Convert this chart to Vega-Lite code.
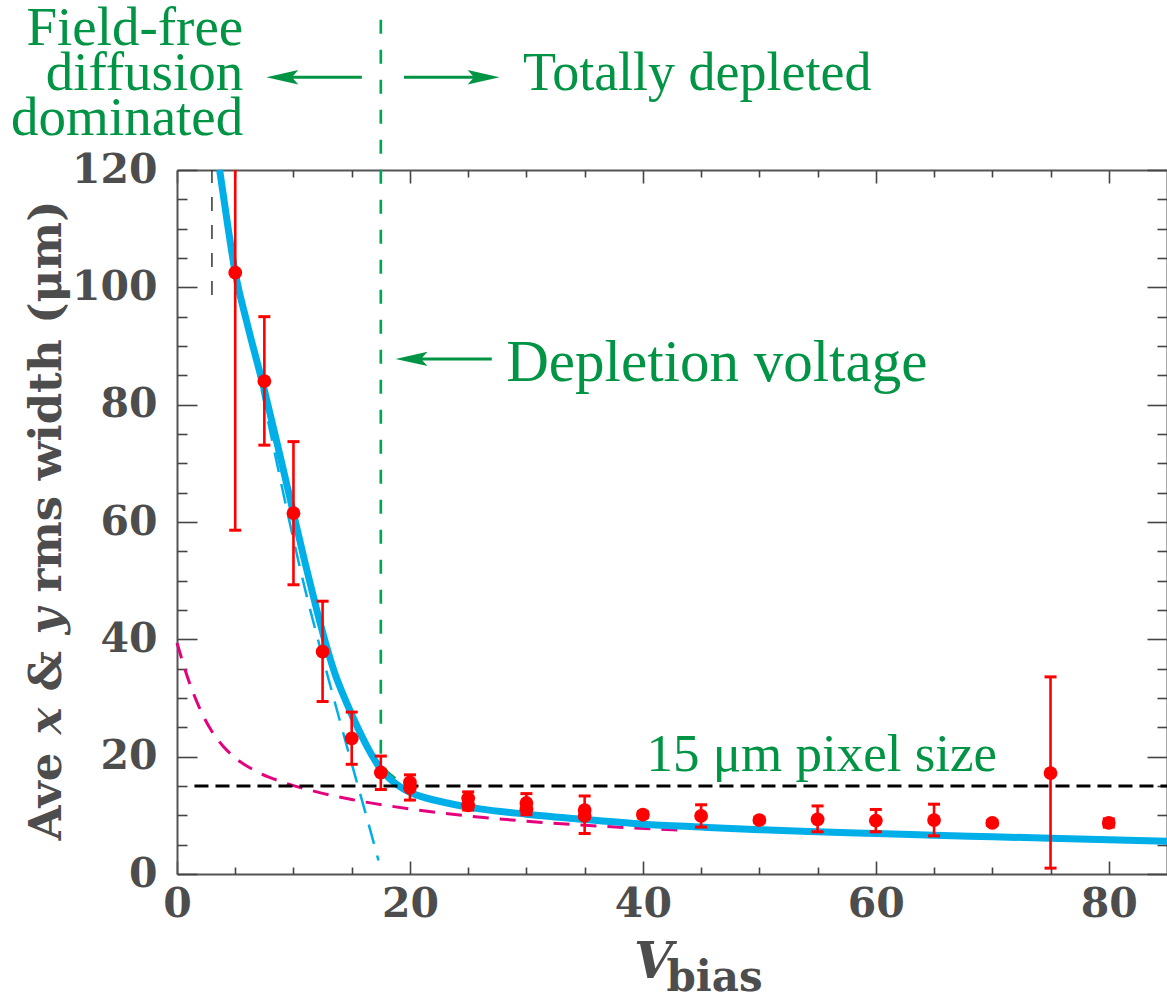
{
  "$schema": "https://vega.github.io/schema/vega-lite/v6.json",
  "width": 990,
  "height": 704,
  "autosize": {"type": "none"},
  "padding": {"left": 177, "top": 170, "right": 0, "bottom": 124},
  "background": "white",
  "config": {
    "view": {"stroke": null},
    "axis": {
      "grid": false,
      "labelFont": "DejaVu Serif",
      "labelFontSize": 41,
      "labelFontWeight": "bold",
      "labelColor": "#4d4d4d",
      "titleFont": "DejaVu Serif",
      "titleColor": "#4d4d4d",
      "titleFontWeight": "bold",
      "domainColor": "#555555",
      "domainWidth": 2,
      "tickColor": "#444444",
      "tickWidth": 1.6,
      "labelFlush": false,
      "labelOverlap": false
    }
  },
  "datasets": {
    "frame": [{"x": 0, "y": 0}],
    "pts": [
      {"x": 5, "y": 102.5}, {"x": 7.5, "y": 84.0}, {"x": 10, "y": 61.5}, {"x": 12.5, "y": 37.9},
      {"x": 15, "y": 23.1}, {"x": 17.5, "y": 17.3}, {"x": 20, "y": 15.6}, {"x": 20, "y": 14.7},
      {"x": 25, "y": 12.9}, {"x": 25, "y": 11.7}, {"x": 30, "y": 12.1}, {"x": 30, "y": 11.0},
      {"x": 35, "y": 10.9}, {"x": 35, "y": 9.9}, {"x": 40, "y": 10.1}, {"x": 45, "y": 9.9},
      {"x": 50, "y": 9.2}, {"x": 55, "y": 9.3}, {"x": 60, "y": 9.1}, {"x": 65, "y": 9.2},
      {"x": 70, "y": 8.7}, {"x": 75, "y": 17.2}, {"x": 80, "y": 8.7}
    ],
    "err": [
      {"x": 5, "lo": 58.6, "hi": 146}, {"x": 7.5, "lo": 73.1, "hi": 95.0}, {"x": 10, "lo": 49.3, "hi": 73.7},
      {"x": 12.5, "lo": 29.4, "hi": 46.5}, {"x": 15, "lo": 18.7, "hi": 27.6}, {"x": 17.5, "lo": 14.4, "hi": 20.1},
      {"x": 20, "lo": 12.6, "hi": 16.9}, {"x": 25, "lo": 10.9, "hi": 14.0}, {"x": 30, "lo": 10.1, "hi": 13.7},
      {"x": 35, "lo": 6.9, "hi": 13.3}, {"x": 40, "lo": 9.6, "hi": 10.6}, {"x": 45, "lo": 8.0, "hi": 11.8},
      {"x": 50, "lo": 8.8, "hi": 9.6}, {"x": 55, "lo": 7.2, "hi": 11.6}, {"x": 60, "lo": 7.2, "hi": 11.0},
      {"x": 65, "lo": 6.5, "hi": 11.9}, {"x": 70, "lo": 8.3, "hi": 9.1}, {"x": 75, "lo": 1.0, "hi": 33.6},
      {"x": 80, "lo": 8.0, "hi": 9.4}
    ],
    "fit": [
      {"x": 3.66, "y": 120}, {"x": 4.3, "y": 111.3}, {"x": 5, "y": 102.5}, {"x": 6, "y": 94}, {"x": 7.5, "y": 82.5},
      {"x": 9, "y": 70}, {"x": 10, "y": 61.5}, {"x": 11, "y": 53}, {"x": 12, "y": 45}, {"x": 12.6, "y": 40.5},
      {"x": 13.5, "y": 34.5}, {"x": 14.6, "y": 29}, {"x": 15.5, "y": 25}, {"x": 16.3, "y": 21.8}, {"x": 17.45, "y": 18},
      {"x": 18.9, "y": 15.2}, {"x": 20, "y": 13.9}, {"x": 21, "y": 13.2}, {"x": 23.2, "y": 12.1}, {"x": 26, "y": 11.1},
      {"x": 30, "y": 10.2}, {"x": 35, "y": 9.3}, {"x": 40, "y": 8.5}, {"x": 45, "y": 8.0}, {"x": 50, "y": 7.55},
      {"x": 55, "y": 7.2}, {"x": 60, "y": 6.9}, {"x": 65, "y": 6.6}, {"x": 70, "y": 6.35}, {"x": 75, "y": 6.1},
      {"x": 80, "y": 5.85}, {"x": 85, "y": 5.6}
    ],
    "depl": [
      {"x": 3.6, "y": 120}, {"x": 5, "y": 104}, {"x": 6.5, "y": 90}, {"x": 8, "y": 75.5}, {"x": 9.5, "y": 61.5},
      {"x": 11, "y": 48.5}, {"x": 12.5, "y": 37}, {"x": 14, "y": 26}, {"x": 15, "y": 18.8}, {"x": 16.3, "y": 9.6},
      {"x": 17.3, "y": 2.3}
    ],
    "diff": [
      {"x": 0, "y": 39.4}, {"x": 1, "y": 33.0}, {"x": 2, "y": 28.0}, {"x": 3, "y": 24.3}, {"x": 4, "y": 21.7},
      {"x": 5, "y": 19.8}, {"x": 7, "y": 17.3}, {"x": 9, "y": 15.7}, {"x": 12, "y": 14.0}, {"x": 15, "y": 12.7},
      {"x": 20, "y": 11.1}, {"x": 25, "y": 9.9}, {"x": 30, "y": 9.0}, {"x": 36, "y": 8.2}, {"x": 43, "y": 7.5}
    ],
    "green": [
      {"x": 17.5, "y": 145.6}, {"x": 17.5, "y": 19.8}, {"x": 18, "y": 17.5}, {"x": 20, "y": 14.2},
      {"x": 22.5, "y": 12.3}, {"x": 25, "y": 11.5}, {"x": 30, "y": 10.3}
    ],
    "pixel": [{"x": 1.5, "y": 15}, {"x": 85, "y": 15}],
    "limit": [{"x": 3.0, "y": 98.7}, {"x": 3.0, "y": 120}],
    "shafts": [
      {"x1": 8.6, "x2": 15.87, "y": 135.8},
      {"x1": 19.49, "x2": 26.8, "y": 135.8},
      {"x1": 19.7, "x2": 27.03, "y": 87.8}
    ],
    "headsL": [{"x": 7.67, "y": 135.8}, {"x": 18.76, "y": 87.8}],
    "headsR": [{"x": 27.7, "y": 135.8}],
    "noteR": [
      {"t": "Field-free", "x": 5.69, "y": 141.3},
      {"t": "diffusion", "x": 5.69, "y": 133.6},
      {"t": "dominated", "x": 5.69, "y": 126.0}
    ],
    "noteTD": [{"t": "Totally depleted", "x": 29.7, "y": 133.6}],
    "noteDV": [{"t": "Depletion voltage", "x": 28.27, "y": 84.0}],
    "notePX": [{"t": "15 μm pixel size", "x": 40.3, "y": 17.56}]
  },
  "layer": [
    {
      "data": {"name": "frame"},
      "mark": {"type": "point", "opacity": 0},
      "encoding": {
        "x": {"field": "x", "type": "quantitative", "scale": {"domain": [0, 85], "nice": false, "zero": false},
          "axis": {"orient": "bottom", "values": [0, 20, 40, 60, 80], "ticks": false, "domain": true, "labelPadding": 10, "labelBaseline": "top",
            "title": "V", "titleFontStyle": "italic", "titleFontSize": 50, "titleX": 476, "titleY": 103, "titleAlign": "center", "titleBaseline": "alphabetic"}},
        "y": {"field": "y", "type": "quantitative", "scale": {"domain": [0, 120], "nice": false, "zero": false},
          "axis": {"orient": "left", "values": [0, 20, 40, 60, 80, 100, 120], "ticks": false, "domain": true, "labelPadding": 20, "labelAlign": "right", "labelBaseline": "middle",
            "title": "Ave", "titleFontSize": 45, "titleAngle": -90, "titleX": -117, "titleY": 670, "titleAlign": "left", "titleBaseline": "alphabetic"}}
      }
    },
    {
      "data": {"name": "frame"},
      "mark": {"type": "point", "opacity": 0},
      "encoding": {
        "x": {"field": "x", "type": "quantitative", "scale": {"domain": [0, 85], "nice": false, "zero": false},
          "axis": {"orient": "bottom", "values": [0, 20, 40, 60, 80], "labels": false, "domain": false, "tickSize": -13,
            "title": "bias", "titleFontSize": 42, "titleX": 537, "titleY": 116, "titleAlign": "center", "titleBaseline": "alphabetic"}},
        "y": {"field": "y", "type": "quantitative", "scale": {"domain": [0, 120], "nice": false, "zero": false},
          "axis": {"orient": "left", "values": [0, 20, 40, 60, 80, 100, 120], "labels": false, "domain": false, "tickSize": -20,
            "title": "x", "titleFontStyle": "italic", "titleFontSize": 45, "titleAngle": -90, "titleX": -117, "titleY": 564, "titleAlign": "left", "titleBaseline": "alphabetic"}}
      }
    },
    {
      "data": {"name": "frame"},
      "mark": {"type": "point", "opacity": 0},
      "encoding": {
        "x": {"field": "x", "type": "quantitative", "scale": {"domain": [0, 85], "nice": false, "zero": false},
          "axis": {"orient": "bottom", "values": [5, 10, 15, 25, 30, 35, 45, 50, 55, 65, 70, 75], "labels": false, "domain": false, "tickSize": -7, "title": null}},
        "y": {"field": "y", "type": "quantitative", "scale": {"domain": [0, 120], "nice": false, "zero": false},
          "axis": {"orient": "left", "values": [5, 10, 15, 25, 30, 35, 45, 50, 55, 65, 70, 75, 85, 90, 95, 105, 110, 115], "labels": false, "domain": false, "tickSize": -10,
            "title": "&", "titleFontSize": 45, "titleAngle": -90, "titleX": -117, "titleY": 521, "titleAlign": "left", "titleBaseline": "alphabetic"}}
      }
    },
    {
      "data": {"name": "frame"},
      "mark": {"type": "point", "opacity": 0},
      "encoding": {
        "x": {"field": "x", "type": "quantitative", "scale": {"domain": [0, 85], "nice": false, "zero": false},
          "axis": {"orient": "top", "values": [0, 20, 40, 60, 80], "labels": false, "domain": true, "tickSize": -13, "title": null}},
        "y": {"field": "y", "type": "quantitative", "scale": {"domain": [0, 120], "nice": false, "zero": false},
          "axis": {"orient": "right", "values": [0, 20, 40, 60, 80, 100, 120], "labels": false, "domain": true, "tickSize": -20,
            "title": "y", "titleFontStyle": "italic", "titleFontSize": 45, "titleAngle": -90, "titleX": -1107, "titleY": 464, "titleAlign": "left", "titleBaseline": "alphabetic"}}
      }
    },
    {
      "data": {"name": "frame"},
      "mark": {"type": "point", "opacity": 0},
      "encoding": {
        "x": {"field": "x", "type": "quantitative", "scale": {"domain": [0, 85], "nice": false, "zero": false},
          "axis": {"orient": "top", "values": [5, 10, 15, 25, 30, 35, 45, 50, 55, 65, 70, 75], "labels": false, "domain": false, "tickSize": -7, "title": null}},
        "y": {"field": "y", "type": "quantitative", "scale": {"domain": [0, 120], "nice": false, "zero": false},
          "axis": {"orient": "right", "values": [5, 10, 15, 25, 30, 35, 45, 50, 55, 65, 70, 75, 85, 90, 95, 105, 110, 115], "labels": false, "domain": false, "tickSize": -10,
            "title": "rms width (μm)", "titleFontSize": 45, "titleAngle": -90, "titleX": -1107, "titleY": 422, "titleAlign": "left", "titleBaseline": "alphabetic"}}
      }
    },
    {
      "data": {"name": "diff"},
      "mark": {"type": "line", "color": "#e5007d", "strokeWidth": 3, "strokeDash": [16, 11], "interpolate": "monotone"},
      "encoding": {"x": {"field": "x", "type": "quantitative", "axis": null}, "y": {"field": "y", "type": "quantitative", "axis": null}}
    },
    {
      "data": {"name": "green"},
      "mark": {"type": "line", "color": "#00a651", "strokeWidth": 2.7, "strokeDash": [14, 16], "clip": false},
      "encoding": {"x": {"field": "x", "type": "quantitative", "axis": null}, "y": {"field": "y", "type": "quantitative", "axis": null}}
    },
    {
      "data": {"name": "fit"},
      "mark": {"type": "line", "color": "#00aee8", "strokeWidth": 7, "interpolate": "monotone"},
      "encoding": {"x": {"field": "x", "type": "quantitative", "axis": null}, "y": {"field": "y", "type": "quantitative", "axis": null}}
    },
    {
      "data": {"name": "depl"},
      "mark": {"type": "line", "color": "#00aee8", "strokeWidth": 2.5, "strokeDash": [20, 12], "interpolate": "monotone"},
      "encoding": {"x": {"field": "x", "type": "quantitative", "axis": null}, "y": {"field": "y", "type": "quantitative", "axis": null}}
    },
    {
      "data": {"name": "pixel"},
      "mark": {"type": "line", "color": "#000000", "strokeWidth": 3, "strokeDash": [14, 7]},
      "encoding": {"x": {"field": "x", "type": "quantitative", "axis": null}, "y": {"field": "y", "type": "quantitative", "axis": null}}
    },
    {
      "data": {"name": "limit"},
      "mark": {"type": "line", "color": "#333333", "strokeWidth": 1.5, "strokeDash": [14, 14]},
      "encoding": {"x": {"field": "x", "type": "quantitative", "axis": null}, "y": {"field": "y", "type": "quantitative", "axis": null}}
    },
    {
      "data": {"name": "err"},
      "mark": {"type": "rule", "color": "#ff0000", "strokeWidth": 2.6, "clip": true},
      "encoding": {"x": {"field": "x", "type": "quantitative", "axis": null}, "y": {"field": "lo", "type": "quantitative", "axis": null}, "y2": {"field": "hi"}}
    },
    {
      "data": {"name": "err"},
      "mark": {"type": "point", "shape": "M -1 0 L 1 0", "size": 144, "filled": false, "stroke": "#ff0000", "strokeWidth": 3, "opacity": 1, "clip": true},
      "encoding": {"x": {"field": "x", "type": "quantitative", "axis": null}, "y": {"field": "lo", "type": "quantitative", "axis": null}}
    },
    {
      "data": {"name": "err"},
      "mark": {"type": "point", "shape": "M -1 0 L 1 0", "size": 144, "filled": false, "stroke": "#ff0000", "strokeWidth": 3, "opacity": 1, "clip": true},
      "encoding": {"x": {"field": "x", "type": "quantitative", "axis": null}, "y": {"field": "hi", "type": "quantitative", "axis": null}}
    },
    {
      "data": {"name": "pts"},
      "mark": {"type": "circle", "color": "#ff0000", "size": 190, "opacity": 1},
      "encoding": {"x": {"field": "x", "type": "quantitative", "axis": null}, "y": {"field": "y", "type": "quantitative", "axis": null}}
    },
    {
      "data": {"name": "shafts"},
      "mark": {"type": "rule", "color": "#009444", "strokeWidth": 3, "clip": false},
      "encoding": {"x": {"field": "x1", "type": "quantitative", "axis": null}, "x2": {"field": "x2"}, "y": {"field": "y", "type": "quantitative", "axis": null}}
    },
    {
      "data": {"name": "headsL"},
      "mark": {"type": "point", "shape": "M 0 0 L 2 -0.45 L 1.6 0 L 2 0.45 Z", "size": 1024, "filled": true, "color": "#009444", "opacity": 1, "strokeWidth": 0, "clip": false},
      "encoding": {"x": {"field": "x", "type": "quantitative", "axis": null}, "y": {"field": "y", "type": "quantitative", "axis": null}}
    },
    {
      "data": {"name": "headsR"},
      "mark": {"type": "point", "shape": "M 0 0 L -2 -0.45 L -1.6 0 L -2 0.45 Z", "size": 1024, "filled": true, "color": "#009444", "opacity": 1, "strokeWidth": 0, "clip": false},
      "encoding": {"x": {"field": "x", "type": "quantitative", "axis": null}, "y": {"field": "y", "type": "quantitative", "axis": null}}
    },
    {
      "data": {"name": "noteR"},
      "mark": {"type": "text", "font": "Liberation Serif", "fontSize": 55, "color": "#009444", "align": "right", "baseline": "alphabetic", "clip": false},
      "encoding": {"x": {"field": "x", "type": "quantitative", "axis": null}, "y": {"field": "y", "type": "quantitative", "axis": null}, "text": {"field": "t"}}
    },
    {
      "data": {"name": "noteTD"},
      "mark": {"type": "text", "font": "Liberation Serif", "fontSize": 54, "color": "#009444", "align": "left", "baseline": "alphabetic", "clip": false},
      "encoding": {"x": {"field": "x", "type": "quantitative", "axis": null}, "y": {"field": "y", "type": "quantitative", "axis": null}, "text": {"field": "t"}}
    },
    {
      "data": {"name": "noteDV"},
      "mark": {"type": "text", "font": "Liberation Serif", "fontSize": 59, "color": "#009444", "align": "left", "baseline": "alphabetic", "clip": false},
      "encoding": {"x": {"field": "x", "type": "quantitative", "axis": null}, "y": {"field": "y", "type": "quantitative", "axis": null}, "text": {"field": "t"}}
    },
    {
      "data": {"name": "notePX"},
      "mark": {"type": "text", "font": "Liberation Serif", "fontSize": 53, "color": "#009444", "align": "left", "baseline": "alphabetic", "clip": false},
      "encoding": {"x": {"field": "x", "type": "quantitative", "axis": null}, "y": {"field": "y", "type": "quantitative", "axis": null}, "text": {"field": "t"}}
    }
  ],
  "resolve": {"axis": {"x": "independent", "y": "independent"}}
}
